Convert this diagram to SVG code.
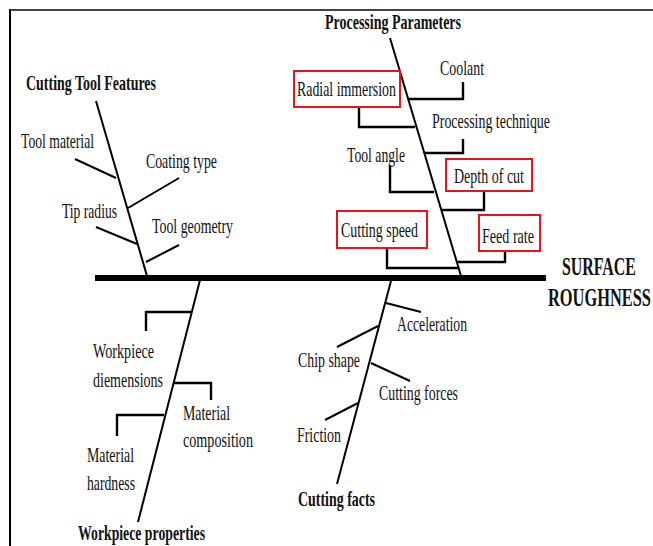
<svg xmlns="http://www.w3.org/2000/svg" width="653" height="546" viewBox="0 0 653 546">
<style>
text{font-family:"Liberation Serif","Times New Roman",serif;fill:#111}
.r{font-size:21px}
.b{font-size:21px;font-weight:bold}
.h{font-size:25px;font-weight:bold}
.ln{stroke:#000;stroke-width:2;fill:none}
.cn{stroke:#000;stroke-width:2.4;fill:none}
.box{stroke:#e8141c;stroke-width:2;fill:none}
</style>
<rect width="653" height="546" fill="#fff"/>
<g id="frame">
<line x1="9" y1="10" x2="653" y2="10" stroke="#444" stroke-width="2"/>
<line x1="10" y1="9" x2="10" y2="546" stroke="#000" stroke-width="2"/>
</g>
<g id="connectors">
<rect x="95" y="275" width="451" height="6" fill="#000"/>
<line class="ln" x1="96" y1="101" x2="147" y2="276"/>
<line class="ln" x1="390" y1="38" x2="461" y2="276"/>
<line class="ln" x1="200" y1="280" x2="138" y2="522"/>
<line class="ln" x1="391" y1="281" x2="337" y2="484"/>
<line class="ln" x1="75" y1="159" x2="116" y2="178"/>
<line class="ln" x1="179" y1="178" x2="128" y2="208"/>
<line class="ln" x1="96" y1="227" x2="137" y2="244"/>
<line class="ln" x1="179" y1="245" x2="146" y2="262"/>
<polyline class="cn" points="408,99 463,99 463,82"/>
<polyline class="cn" points="359,107 359,127 415,127"/>
<polyline class="cn" points="425,153 463,153 463,139"/>
<polyline class="cn" points="390,165 390,192 434,192"/>
<polyline class="cn" points="484,191 484,210 442,210"/>
<polyline class="cn" points="387,248 387,268 458,268"/>
<polyline class="cn" points="457,262 505,262 505,251"/>
<polyline class="cn" points="191,312 146,312 146,331"/>
<polyline class="cn" points="173,383 211,383 211,400"/>
<polyline class="cn" points="164,415 117,415 117,436"/>
<line class="ln" x1="386" y1="303" x2="421" y2="312"/>
<line class="ln" x1="378" y1="326" x2="337" y2="347"/>
<line class="ln" x1="371" y1="363" x2="410" y2="381"/>
<line class="ln" x1="358" y1="403" x2="325" y2="420"/>
</g>
<g id="effect">
<text class="h" transform="translate(562 275) scale(0.66 1)" textLength="112" lengthAdjust="spacingAndGlyphs">SURFACE</text>
<text class="h" transform="translate(548 306) scale(0.66 1)" textLength="156" lengthAdjust="spacingAndGlyphs">ROUGHNESS</text>
</g>
<g id="processing-parameters">
<text class="b" x="325" y="29" textLength="136" lengthAdjust="spacingAndGlyphs">Processing Parameters</text>
</g>
<g id="cutting-tool-features">
<text class="b" x="26" y="90" textLength="130" lengthAdjust="spacingAndGlyphs">Cutting Tool Features</text>
</g>
<g id="workpiece-properties">
<text class="b" x="78" y="540" textLength="127" lengthAdjust="spacingAndGlyphs">Workpiece properties</text>
</g>
<g id="cutting-facts">
<text class="b" x="298" y="506" textLength="77" lengthAdjust="spacingAndGlyphs">Cutting facts</text>
</g>
<g id="tool-material"><text class="r" x="21" y="148" textLength="73" lengthAdjust="spacingAndGlyphs">Tool material</text></g>
<g id="coating-type"><text class="r" x="146" y="168" textLength="71" lengthAdjust="spacingAndGlyphs">Coating type</text></g>
<g id="tip-radius"><text class="r" x="62" y="218" textLength="55" lengthAdjust="spacingAndGlyphs">Tip radius</text></g>
<g id="tool-geometry"><text class="r" x="152" y="233" textLength="81" lengthAdjust="spacingAndGlyphs">Tool geometry</text></g>
<g id="coolant"><text class="r" x="440" y="75" textLength="44" lengthAdjust="spacingAndGlyphs">Coolant</text></g>
<g id="radial-immersion"><rect class="box" x="294" y="71" width="106" height="36"/><text class="r" x="297" y="96" textLength="99" lengthAdjust="spacingAndGlyphs">Radial immersion</text></g>
<g id="processing-technique"><text class="r" x="432" y="128" textLength="118" lengthAdjust="spacingAndGlyphs">Processing technique</text></g>
<g id="tool-angle"><text class="r" x="347" y="162" textLength="58" lengthAdjust="spacingAndGlyphs">Tool angle</text></g>
<g id="depth-of-cut"><rect class="box" x="446" y="159" width="86" height="32"/><text class="r" x="454" y="183" textLength="70" lengthAdjust="spacingAndGlyphs">Depth of cut</text></g>
<g id="cutting-speed"><rect class="box" x="337" y="211" width="90" height="37"/><text class="r" x="341" y="237" textLength="77" lengthAdjust="spacingAndGlyphs">Cutting speed</text></g>
<g id="feed-rate"><rect class="box" x="479" y="215" width="61" height="36"/><text class="r" x="482" y="243" textLength="52" lengthAdjust="spacingAndGlyphs">Feed rate</text></g>
<g id="workpiece-dimensions"><text class="r" x="93" y="358" textLength="61" lengthAdjust="spacingAndGlyphs">Workpiece</text><text class="r" x="93" y="387" textLength="70" lengthAdjust="spacingAndGlyphs">diemensions</text></g>
<g id="material-composition"><text class="r" x="183" y="420" textLength="47" lengthAdjust="spacingAndGlyphs">Material</text><text class="r" x="183" y="447" textLength="70" lengthAdjust="spacingAndGlyphs">composition</text></g>
<g id="material-hardness"><text class="r" x="87" y="462" textLength="47" lengthAdjust="spacingAndGlyphs">Material</text><text class="r" x="87" y="490" textLength="48" lengthAdjust="spacingAndGlyphs">hardness</text></g>
<g id="acceleration"><text class="r" x="397" y="331" textLength="70" lengthAdjust="spacingAndGlyphs">Acceleration</text></g>
<g id="chip-shape"><text class="r" x="298" y="367" textLength="62" lengthAdjust="spacingAndGlyphs">Chip shape</text></g>
<g id="cutting-forces"><text class="r" x="379" y="400" textLength="79" lengthAdjust="spacingAndGlyphs">Cutting forces</text></g>
<g id="friction"><text class="r" x="297" y="442" textLength="44" lengthAdjust="spacingAndGlyphs">Friction</text></g>
</svg>
